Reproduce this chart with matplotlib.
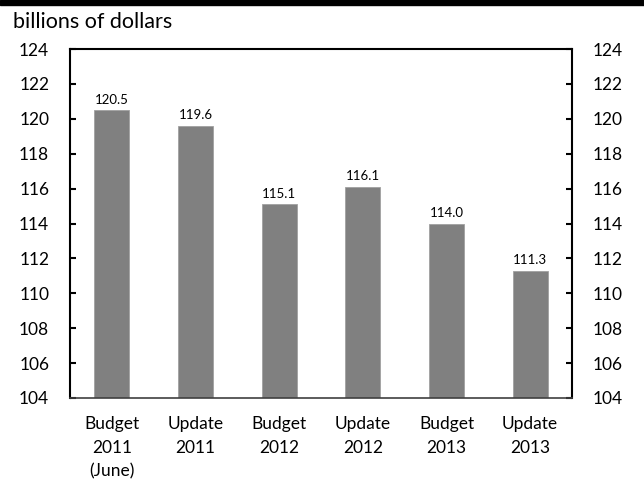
import matplotlib.pyplot as plt
from matplotlib.patches import Rectangle

plt.rcParams['font.family'] = ['Lato', 'DejaVu Sans']

categories = ["Budget\n2011\n(June)", "Update\n2011", "Budget\n2012",
              "Update\n2012", "Budget\n2013", "Update\n2013"]
values = [120.5, 119.6, 115.1, 116.1, 114.0, 111.3]
yticks = list(range(104, 125, 2))

fig = plt.figure(figsize=(6.44, 4.83), dpi=100)
ax = fig.add_axes([70 / 644, 1 - 398 / 483, 502 / 644, 349 / 483])

x = range(len(values))
ax.bar(x, [v - 104 for v in values], bottom=104, width=0.42,
       color="#808080", edgecolor="#a0a0a0", linewidth=0.6, zorder=2)
for xi, v in zip(x, values):
    ax.text(xi, v + 0.25, f"{v:.1f}", ha="center", va="bottom", fontsize=9.5)

ax.set_xlim(-0.5, len(values) - 0.5)
ax.set_ylim(104, 124)
ax.set_yticks(yticks)
ax.set_xticks(list(x))
ax.set_xticklabels(categories, fontsize=12.5, linespacing=1.6)
ax.tick_params(axis="x", length=0, pad=13)
ax.tick_params(axis="y", direction="in", length=4, width=1.5, labelsize=12.5,
               right=True, labelright=True)
for t in ax.yaxis.get_major_ticks():
    t.set_pad(15)
for side in ["left", "right", "top"]:
    ax.spines[side].set_linewidth(1.5)
ax.spines["bottom"].set_color("#404040")
ax.spines["bottom"].set_linewidth(1.2)

fig.text(13 / 644, 1 - 28 / 483, "billions of dollars", fontsize=15.5)
fig.patches.append(Rectangle((0, 1 - 5 / 483), 1, 5 / 483,
                             transform=fig.transFigure, color="black"))

fig.savefig("out.png", dpi=100)
